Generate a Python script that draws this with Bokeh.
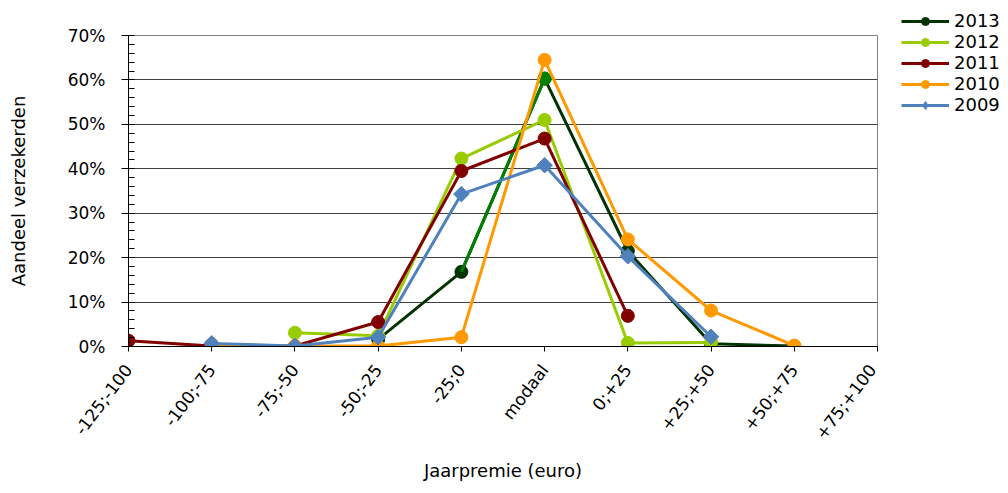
import math
from bokeh.plotting import figure
from bokeh.layouts import row
from bokeh.models import Range1d, FixedTicker, PrintfTickFormatter, Legend, LegendItem
from bokeh.embed import file_html
from bokeh.resources import INLINE

nan = float("nan")
categories = ["-125;-100", "-100;-75", "-75;-50", "-50;-25", "-25;0",
              "modaal", "0;+25", "+25;+50", "+50;+75", "+75;+100"]
y_ticks = [0, 10, 20, 30, 40, 50, 60, 70]
s2013 = [nan, nan, nan, 1.6, 16.8, 60.3, 21.5, 0.6, 0.1, nan]
s2012 = [nan, nan, 3.1, 2.4, 42.3, 51.0, 0.8, 0.9, nan, nan]
s2011 = [1.3, 0.1, 0.1, 5.5, 39.5, 46.8, 6.9, nan, nan, nan]
s2010 = [nan, 0.5, 0.1, 0.1, 2.1, 64.5, 24.1, 8.1, 0.2, nan]
s2009 = [nan, 0.7, 0.1, 2.1, 34.3, 40.8, 20.3, 2.2, nan, nan]
series_names = ["2013", "2012", "2011", "2010", "2009"]
series_values = [s2013, s2012, s2011, s2010, s2009]
series_colors = ["#003300", "#99cc00", "#800000", "#ff9900", "#4f81bd"]
highlight_color = "#008000"  # 2013 'modaal' point formatted differently
x = list(range(len(categories)))

FONT = "DejaVu Sans"


def draw_series(fig, name, vals, col, legend_fig=False):
    ln = fig.line(x, vals, line_color=col, line_width=3, line_join="round")
    if name == "2009":
        if legend_fig:
            sc = fig.scatter(x, vals, marker="diamond", size=11,
                             fill_color=col, line_color=col)
        else:
            sc = fig.scatter(x, vals, marker="square", angle=math.pi / 4, size=11,
                             fill_color=col, line_color=col)
    else:
        sc = fig.scatter(x, vals, marker="circle", size=13, fill_color=col, line_color=col)
    return ln, sc


p = figure(width=880, height=485, output_backend="svg", toolbar_location=None,
           title=None,
           x_range=Range1d(0, len(categories) - 1), y_range=Range1d(y_ticks[0], y_ticks[-1]),
           min_border_left=128, min_border_right=3, min_border_top=35, min_border_bottom=139)
p.background_fill_color = "white"
p.border_fill_color = "white"
p.outline_line_color = "#808080"
p.outline_line_width = 1

# grid
p.xgrid.visible = False
p.ygrid.grid_line_color = "black"
p.ygrid.grid_line_alpha = 0.75
p.ygrid.grid_line_width = 1

# y axis
p.yaxis.ticker = FixedTicker(ticks=y_ticks, minor_ticks=list(range(0, 71, 2)))
p.yaxis.formatter = PrintfTickFormatter(format="%d%%")
p.yaxis.axis_line_color = "black"
p.yaxis.major_tick_out = 7
p.yaxis.major_tick_in = 0
p.yaxis.minor_tick_in = 6
p.yaxis.minor_tick_out = 0
p.yaxis.major_label_standoff = 16
p.yaxis.major_label_text_font = FONT
p.yaxis.major_label_text_font_size = "17px"
p.yaxis.major_label_text_color = "black"
p.yaxis.axis_label = "Aandeel verzekerden"
p.yaxis.axis_label_text_font = FONT
p.yaxis.axis_label_text_font_size = "18px"
p.yaxis.axis_label_text_font_style = "normal"
p.yaxis.axis_label_text_color = "black"
p.yaxis.axis_label_standoff = 36

# x axis
p.xaxis.ticker = FixedTicker(ticks=x)
p.xaxis.major_label_overrides = {i: c for i, c in enumerate(categories)}
p.xaxis.major_label_orientation = math.radians(53)
p.xaxis.axis_line_color = "black"
p.xaxis.major_tick_out = 5
p.xaxis.major_tick_in = 0
p.xaxis.minor_tick_out = 0
p.xaxis.minor_tick_in = 0
p.xaxis.major_label_standoff = 15
p.xaxis.major_label_text_font = FONT
p.xaxis.major_label_text_font_size = "17px"
p.xaxis.major_label_text_color = "black"
p.xaxis.axis_label = "Jaarpremie (euro)"
p.xaxis.axis_label_text_font = FONT
p.xaxis.axis_label_text_font_size = "18px"
p.xaxis.axis_label_text_font_style = "normal"
p.xaxis.axis_label_text_color = "black"
p.xaxis.axis_label_standoff = 8

for name, vals, col in zip(series_names, series_values, series_colors):
    draw_series(p, name, vals, col)
    if name == "2013":
        i = categories.index("modaal")
        p.line(x[i - 1:i + 1], vals[i - 1:i + 1], line_color=highlight_color,
               line_width=3, line_join="round")
        p.scatter([x[i]], [vals[i]], marker="circle", size=13,
                  fill_color=highlight_color, line_color=highlight_color)

# legend panel: a small figure to the right whose view range excludes the data,
# so only its legend shows
lg = figure(width=120, height=485, output_backend="svg", toolbar_location=None,
            title=None, x_axis_location=None, y_axis_location=None,
            x_range=Range1d(100, 101), y_range=Range1d(100, 101),
            min_border_left=11, min_border_right=0, min_border_top=0, min_border_bottom=0)
lg.outline_line_color = None
lg.grid.visible = False
lg.background_fill_color = "white"
lg.border_fill_color = "white"
if "frame_align" in lg.properties():
    lg.frame_align = False
    p.frame_align = False
items = []
for name, vals, col in zip(series_names, series_values, series_colors):
    ln, sc = draw_series(lg, name, vals, col, legend_fig=True)
    items.append(LegendItem(label=name, renderers=[ln, sc]))

legend = Legend(items=items, location="top_left", orientation="vertical",
                glyph_width=48, glyph_height=20, label_height=20, spacing=0,
                padding=0, margin=10, label_standoff=5,
                border_line_alpha=0, background_fill_alpha=0,
                label_text_font=FONT, label_text_font_size="18px",
                label_text_color="black")
lg.add_layout(legend, "center")

layout = row(p, lg)
open("out.html", "w").write(file_html(layout, INLINE))
